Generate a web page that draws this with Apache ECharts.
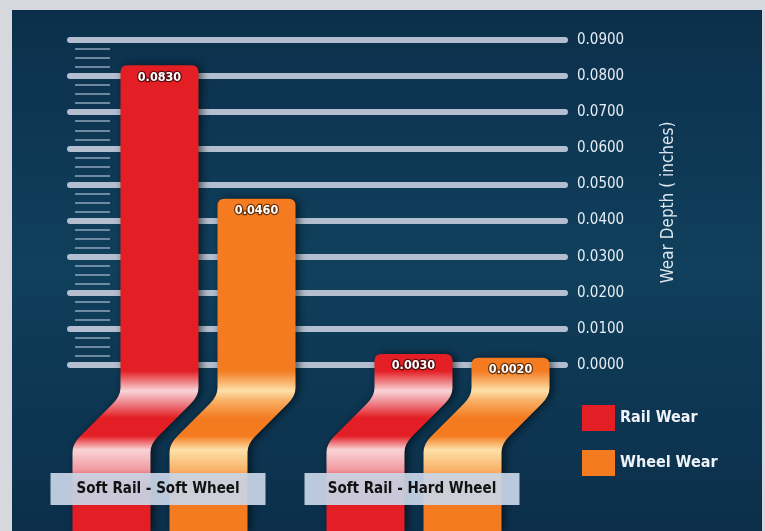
<!DOCTYPE html>
<html><head><meta charset="utf-8">
<script src="https://cdn.jsdelivr.net/npm/echarts@6/dist/echarts.min.js"></script>
<style>html,body{margin:0;padding:0;background:#d6d8dd}#c{width:765px;height:531px}</style>
</head><body><div id="c"></div>
<script>
// ---- data ----
const categories = ['Soft Rail - Soft Wheel', 'Soft Rail - Hard Wheel'];
const seriesNames = ['Rail Wear', 'Wheel Wear'];
const railWear = [0.0830, 0.0030];
const wheelWear = [0.0460, 0.0020];
const yTickMin = 0, yTickMax = 0.09, yTickStep = 0.01;
const axisTitle = 'Wear Depth ( inches)';
const yHiddenMin = -0.046; // ribbon tails run below zero

// ---- style ----
const FONT = "'DejaVu Sans Condensed', 'Liberation Sans Narrow', 'DejaVu Sans', sans-serif";
const palettes = [
  {base:'#e31e24', hi:'#f8d4d6', mid:'#f09aa0', dark:'#5a0c10'},
  {base:'#f47b20', hi:'#fde0a8', mid:'#f9b26a', dark:'#6a3208'}
];

function makeRender(sIdx) {
  const p = palettes[sIdx];
  return function (params, api) {
    const cat = api.value(0), val = api.value(1);
    const top = api.coord([cat, val]);
    const zero = api.coord([cat, 0]);
    const bot = api.coord([cat, yHiddenMin]);
    const band = api.size([1, 0])[0];
    const w = 78, r = 7;
    const cx = top[0] + (sIdx === 0 ? -1 : 1) * band * 0.191;
    const x0 = cx - w / 2, x1 = x0 + w;
    const b1 = zero[1] + 31, b2 = zero[1] + 79, shift = -48;
    const T = top[1], B = bot[1];
    // rounded joins around a straight slanted section
    const jy = 8, jx = shift * jy / (b2 - b1);
    const s = y => Math.min(1, Math.max(0, (y - T) / (B - T)));
    const grad = {
      type: 'linear', x: 0, y: T, x2: 0, y2: B, global: true,
      colorStops: [
        {offset: 0, color: p.base},
        {offset: s(zero[1] + 6), color: p.base},
        {offset: s(zero[1] + 26), color: p.hi},
        {offset: s(b1 + 4), color: p.mid},
        {offset: s(b1 + 22), color: p.base},
        {offset: s(b2 - 8), color: p.base},
        {offset: s(b2 + 6), color: p.hi},
        {offset: s(b2 + 26), color: p.mid},
        {offset: s(b2 + 40), color: p.base},
        {offset: 1, color: p.base}
      ]
    };
    const d = [
      'M', x0 + r, T,
      'L', x1 - r, T,
      'Q', x1, T, x1, T + r,
      'L', x1, b1 - jy,
      'Q', x1, b1, x1 + jx, b1 + jy,
      'L', x1 + shift - jx, b2 - jy,
      'Q', x1 + shift, b2, x1 + shift, b2 + jy,
      'L', x1 + shift, B,
      'L', x0 + shift, B,
      'L', x0 + shift, b2 + jy,
      'Q', x0 + shift, b2, x0 + shift - jx, b2 - jy,
      'L', x0 + jx, b1 + jy,
      'Q', x0, b1, x0, b1 - jy,
      'L', x0, T + r,
      'Q', x0, T, x0 + r, T, 'Z'
    ].join(' ');
    return {
      type: 'group',
      children: [
        {type: 'path', shape: {pathData: d}, style: {fill: grad, shadowBlur: 8, shadowColor: 'rgba(0,0,0,0.6)', shadowOffsetX: 3}},
        {type: 'text', style: {
          x: cx, y: T + 12, text: val.toFixed(4), align: 'center', verticalAlign: 'middle',
          fill: '#ffffff', stroke: p.dark, lineWidth: 2.5,
          font: "bold 12.5px " + FONT
        }}
      ]
    };
  };
}

const chart = echarts.init(document.getElementById('c'));
chart.setOption({
  backgroundColor: '#d6d8dd',
  animation: false,
  graphic: [{
    type: 'rect', z: -10, silent: true,
    shape: {x: 12, y: 10, width: 750, height: 521},
    style: {fill: {type: 'linear', x: 0, y: 0, x2: 0, y2: 1, colorStops: [
      {offset: 0, color: '#0b2f4b'}, {offset: 0.5, color: '#10405d'}, {offset: 0.62, color: '#0e3a56'}, {offset: 1, color: '#0b2f4b'}
    ]}}
  }],
  legend: {
    orient: 'vertical', left: 577, top: 400, itemWidth: 33, itemHeight: 26, itemGap: 19,
    icon: 'rect', data: seriesNames,
    textStyle: {color: '#eef3f8', fontSize: 16, fontWeight: 'bold', fontFamily: FONT}
  },
  grid: [
    {left: 70, right: 200, top: 40, bottom: 166},   // major gridlines + ticks
    {left: 81, right: 176, top: 40, bottom: 0},     // bars
    {left: 31, right: 226, top: 40, bottom: 58},    // category labels
    {left: 75, right: 655, top: 40, bottom: 166}    // minor lines
  ],
  xAxis: [
    {gridIndex: 0, type: 'value', show: false},
    {gridIndex: 1, type: 'category', data: categories, show: false},
    {gridIndex: 2, type: 'category', data: categories, z: 10,
      axisLine: {show: false}, axisTick: {show: false},
      axisLabel: {margin: 0, verticalAlign: 'top', color: '#111111', fontSize: 15, fontWeight: 'bold',
        fontFamily: FONT, backgroundColor: 'rgba(200,213,230,0.93)', padding: [7, 12, 7, 12], lineHeight: 18,
        width: 191, align: 'center'}},
    {gridIndex: 3, type: 'value', show: false}
  ],
  yAxis: [
    {gridIndex: 0, type: 'value', position: 'right', min: yTickMin, max: yTickMax, interval: yTickStep,
      axisLine: {show: false}, axisTick: {show: false},
      axisLabel: {margin: 12, color: '#e6edf4', fontSize: 15, fontFamily: FONT, formatter: v => v.toFixed(4)},
      splitLine: {show: true, lineStyle: {color: '#b3bfd0', width: 6, cap: 'round'}},
      name: axisTitle, nameLocation: 'middle', nameRotate: 90, nameGap: 95,
      nameTextStyle: {color: '#dde6ee', fontSize: 17, fontFamily: FONT}},
    {gridIndex: 1, type: 'value', min: yHiddenMin, max: yTickMax, show: false, splitLine: {show: false}},
    {gridIndex: 2, type: 'value', show: false, splitLine: {show: false}},
    {gridIndex: 3, type: 'value', min: yTickMin, max: yTickMax, interval: yTickStep, show: true,
      axisLine: {show: false}, axisTick: {show: false}, axisLabel: {show: false},
      splitLine: {show: false},
      minorTick: {show: false, splitNumber: 4},
      minorSplitLine: {show: true, lineStyle: {color: 'rgba(175,192,212,0.6)', width: 2}}}
  ],
  series: [
    {name: seriesNames[0], type: 'custom', xAxisIndex: 1, yAxisIndex: 1, itemStyle: {color: palettes[0].base},
      renderItem: makeRender(0), data: railWear.map((v, i) => [i, v]), z: 3},
    {name: seriesNames[1], type: 'custom', xAxisIndex: 1, yAxisIndex: 1, itemStyle: {color: palettes[1].base},
      renderItem: makeRender(1), data: wheelWear.map((v, i) => [i, v]), z: 3}
  ]
});
</script>
</body></html>
